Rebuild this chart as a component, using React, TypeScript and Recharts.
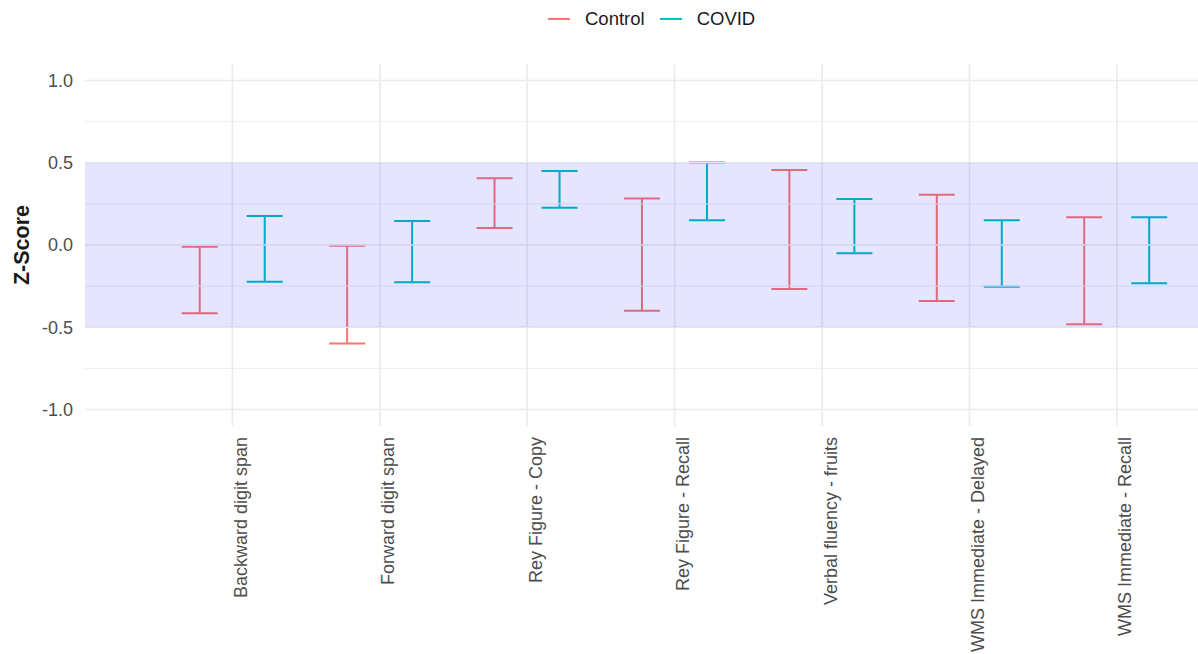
import React from 'react';
import {
  ComposedChart,
  Bar,
  XAxis,
  YAxis,
  ReferenceArea,
  ReferenceLine,
  Legend,
} from 'recharts';

const categories = [
  'Backward digit span',
  'Forward digit span',
  'Rey Figure - Copy',
  'Rey Figure - Recall',
  'Verbal fluency - fruits',
  'WMS Immediate - Delayed',
  'WMS Immediate - Recall',
];

const controlLow = [-0.415, -0.598, 0.104, -0.399, -0.267, -0.34, -0.482];
const controlHigh = [-0.01, -0.005, 0.405, 0.282, 0.456, 0.306, 0.168];
const covidLow = [-0.224, -0.227, 0.227, 0.15, -0.05, -0.253, -0.233];
const covidHigh = [0.177, 0.146, 0.45, 0.501, 0.28, 0.15, 0.168];

const yTicks = [-1, -0.5, 0, 0.5, 1];
const minorTicks = [-0.75, -0.25, 0.25, 0.75];
const xTicks = categories.map((_, i) => i + 1);

const CONTROL = '#F8766D';
const COVID = '#00BFC4';
const FONT = '"Liberation Sans", Arial, sans-serif';

const series = [
  { key: 'control', name: 'Control', color: CONTROL },
  { key: 'covid', name: 'COVID', color: COVID },
];

const data = categories.map((name, i) => ({
  pos: i + 1,
  name,
  control: [controlLow[i], controlHigh[i]],
  covid: [covidLow[i], covidHigh[i]],
}));

// draws an errorbar (I-beam) inside the box recharts gives a range bar
const errorBarShape = (color: string) => (props: any) => {
  const { x, y, width, height } = props;
  const top = Math.min(y, y + height);
  const bottom = Math.max(y, y + height);
  const cx = x + width / 2;
  return (
    <g stroke={color} strokeWidth={2} fill="none">
      <line x1={x} x2={x + width} y1={top} y2={top} />
      <line x1={x} x2={x + width} y1={bottom} y2={bottom} />
      <line x1={cx} x2={cx} y1={top} y2={bottom} />
    </g>
  );
};

const XTick = (props: any) => {
  const { x, y, payload } = props;
  return (
    <text
      x={x}
      y={y}
      dy={14.5}
      transform={`rotate(-90, ${x}, ${y})`}
      textAnchor="end"
      fill="#4d4d4d"
      fontSize={18}
      fontFamily={FONT}
    >
      {categories[payload.value - 1]}
    </text>
  );
};

const YTitle = (props: any) => {
  const { viewBox } = props;
  const cx = viewBox.x + 22;
  const cy = viewBox.y + viewBox.height / 2;
  return (
    <text
      x={cx}
      y={cy}
      transform={`rotate(-90, ${cx}, ${cy})`}
      textAnchor="middle"
      dominantBaseline="central"
      fontWeight="bold"
      fontSize={21.5}
      fill="#1a1a1a"
      fontFamily={FONT}
    >
      Z-Score
    </text>
  );
};

const LegendContent = () => (
  <div style={{ display: 'flex', alignItems: 'center', fontFamily: FONT, fontSize: 18.5, color: '#1a1a1a', lineHeight: '22px' }}>
    {series.map((s) => (
      <div key={s.key} style={{ display: 'flex', alignItems: 'center', marginRight: 15 }}>
        <svg width={22} height={4} style={{ marginRight: 15 }}>
          <line x1={0} x2={22} y1={2} y2={2} stroke={s.color} strokeWidth={2} />
        </svg>
        <span>{s.name}</span>
      </div>
    ))}
  </div>
);

export default function App() {
  return (
    <div style={{ position: 'absolute', left: 0, top: 0, width: 1198, height: 654, background: '#fff' }}>
      <ComposedChart
        width={1198}
        height={654}
        data={data}
        margin={{ top: 64, right: 0, bottom: 0, left: 0 }}
        barSize={36}
        barGap={29}
      >
        {yTicks.map((v) => (
          <ReferenceLine key={`y${v}`} y={v} stroke="#ebebeb" strokeWidth={1.6} />
        ))}
        {minorTicks.map((v) => (
          <ReferenceLine key={`m${v}`} y={v} stroke="#eeeeee" strokeWidth={1} />
        ))}
        {xTicks.map((v) => (
          <ReferenceLine key={`x${v}`} x={v} stroke="#ebebeb" strokeWidth={1.6} />
        ))}
        <XAxis
          dataKey="pos"
          type="number"
          domain={[0, 7.55]}
          ticks={xTicks}
          axisLine={false}
          tickLine={false}
          tickSize={0}
          tickMargin={11}
          height={228}
          interval={0}
          tick={<XTick />}
        />
        <YAxis
          type="number"
          domain={[-1.1, 1.1]}
          ticks={yTicks}
          width={85}
          axisLine={false}
          tickLine={false}
          tickSize={0}
          tickMargin={12}
          tickFormatter={(v: number) => v.toFixed(1)}
          tick={{ fill: '#4d4d4d', fontSize: 18, fontFamily: FONT }}
          label={<YTitle />}
        />
        <Legend
          verticalAlign="middle"
          align="center"
          layout="horizontal"
          wrapperStyle={{ top: 8, left: 548, width: 'auto' }}
          content={<LegendContent />}
        />
        {series.map((s) => (
          <Bar
            key={s.key}
            dataKey={s.key}
            name={s.name}
            fill={s.color}
            shape={errorBarShape(s.color)}
            isAnimationActive={false}
          />
        ))}
        <ReferenceArea y1={-0.5} y2={0.5} fill="#0000ff" fillOpacity={0.1} stroke="none" zIndex={700} />
      </ComposedChart>
    </div>
  );
}
